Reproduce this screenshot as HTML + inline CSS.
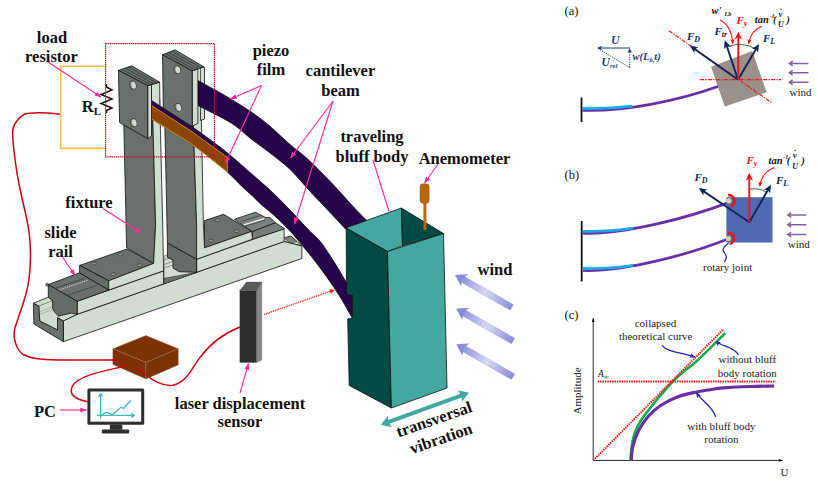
<!DOCTYPE html>
<html>
<head>
<meta charset="utf-8">
<title>Figure</title>
<style>
html,body{margin:0;padding:0;background:#fff;}
body{width:818px;height:482px;overflow:hidden;}
svg{display:block;}
.lb{font-family:"Liberation Serif","Times New Roman",serif;font-weight:bold;font-size:16.5px;fill:#111;}
.rg{font-family:"Liberation Serif","Times New Roman",serif;font-size:11px;fill:#222;}
.pl{font-family:"Liberation Serif","Times New Roman",serif;font-size:12.5px;fill:#111;}
.bi{font-family:"Liberation Serif","Times New Roman",serif;font-weight:bold;font-style:italic;font-size:11px;}
.pk{stroke:#FF2D95;stroke-width:1.15;fill:none;}
.ol{stroke:#111;stroke-width:0.8;stroke-linejoin:round;}
</style>
</head>
<body>
<svg width="818" height="482" viewBox="0 0 818 482">
<defs>
<marker id="mpk" viewBox="0 0 10 10" refX="9" refY="5" markerWidth="6" markerHeight="6" orient="auto-start-reverse"><path d="M0,1.5 L10,5 L0,8.5 z" fill="#FF2D95"/></marker>
<marker id="mnv" viewBox="0 0 10 10" refX="7" refY="5" markerWidth="4.2" markerHeight="4.2" orient="auto"><path d="M0,0.5 L10,5 L0,9.5 L2.5,5 z" fill="#10245C"/></marker>
<marker id="mrd" viewBox="0 0 10 10" refX="7" refY="5" markerWidth="4.2" markerHeight="4.2" orient="auto"><path d="M0,0.5 L10,5 L0,9.5 L2.5,5 z" fill="#FF1010"/></marker>
<marker id="mrs" viewBox="0 0 10 10" refX="8" refY="5" markerWidth="5" markerHeight="5" orient="auto"><path d="M0,1 L10,5 L0,9 L2.5,5 z" fill="#FF1010"/></marker>
<marker id="mbl" viewBox="0 0 10 10" refX="8" refY="5" markerWidth="5" markerHeight="5" orient="auto"><path d="M0,1 L10,5 L0,9 L2.5,5 z" fill="#1C22B8"/></marker>
<marker id="mpu" viewBox="0 0 10 10" refX="2" refY="5" markerWidth="5" markerHeight="5" orient="auto"><path d="M0,0.5 L6,5 L0,9.5" fill="none" stroke="#8064A2" stroke-width="1.6"/></marker>
<marker id="mbk" viewBox="0 0 10 10" refX="8" refY="5" markerWidth="7" markerHeight="5" orient="auto"><path d="M0,2 L10,5 L0,8 z" fill="#111"/></marker>
<linearGradient id="gw" x1="0" y1="0" x2="1" y2="0"><stop offset="0" stop-color="#8A8AD6"/><stop offset="0.5" stop-color="#D9D9F4"/><stop offset="1" stop-color="#8A8AD6"/></linearGradient>
</defs>
<rect width="818" height="482" fill="#fff"/>

<!-- ================= LEFT : experimental setup ================= -->
<g id="setup">
<!-- wires -->
<path d="M60.5,114.3 C58.2,114.1 51.3,113.2 47.0,113.0 C42.7,112.8 38.6,112.7 34.8,112.9 C31.0,113.2 26.9,113.3 24.0,114.5 C21.1,115.7 19.2,118.0 17.4,120.3 C15.6,122.5 14.0,125.2 13.2,128.0 C12.4,130.8 12.6,132.5 12.8,137.0 C13.0,141.5 13.7,148.6 14.5,155.0 C15.3,161.4 16.2,168.6 17.4,175.4 C18.6,182.2 20.1,189.2 21.5,196.0 C22.9,202.8 24.8,209.7 26.1,216.0 C27.4,222.3 28.6,228.2 29.3,234.0 C30.0,239.8 30.3,245.3 30.4,251.0 C30.5,256.7 30.4,262.2 30.0,268.0 C29.6,273.8 29.1,279.7 27.9,285.7 C26.7,291.7 24.8,298.2 23.0,304.0 C21.2,309.8 18.8,316.0 17.4,320.5 C15.9,325.0 14.8,327.9 14.3,331.0 C13.8,334.1 14.0,336.2 14.5,339.0 C15.0,341.8 16.1,345.4 17.5,348.0 C18.9,350.6 20.1,352.8 23.2,354.5 C26.3,356.2 30.2,357.6 36.0,358.5 C41.8,359.4 45.2,359.8 58.0,360.0 C70.8,360.2 103.8,360.0 113.0,360.0" fill="none" stroke="#D00010" stroke-width="1.5"/>
<path d="M121,367 C100,372 78,376 72.5,386 C68,395 76,399.5 88,401.7" fill="none" stroke="#D00010" stroke-width="1.5"/>
<path d="M145,374 C152,380 163,386.5 173,385.2 C186,383 192,368 200,357.4 C210,344 222,334 240,327" fill="none" stroke="#D00010" stroke-width="1.5"/>
<!-- orange circuit -->
<path d="M105,66.3 H60.7 V148.4 H105" fill="none" stroke="#FFC04A" stroke-width="1.6"/>
<!-- resistor -->
<path d="M106.5,84 L106.5,87 L112,90 L101,94.5 L112,99 L101,103.5 L112,108 L106.5,110.5 L106.5,113" fill="none" stroke="#111" stroke-width="1.5" stroke-linejoin="miter"/>

<!-- rail -->
<g class="ol">
<!-- rail body -->
<polygon points="33.3,303.3 47.7,297.4 291,236 301.9,246 284.1,241.5 77.2,314.3 63.4,321" fill="#D1DCD2"/>
<polygon points="63.4,321 77.2,314.3 284.1,241.5 301.9,246 301.9,258.5 63.4,341.7" fill="#D1DCD2"/>
<polygon points="284.6,238.8 291,236.3 297,241.6 290.3,243" fill="#7A827D" stroke-width="0.4"/>
<!-- channel interior -->
<polygon points="38.8,306 52.6,300.7 58.5,316.1 57.5,318 57.5,329.9 39.8,321" fill="#D1DCD2" stroke-width="0.4"/>
<path d="M39.5,312 L53,306.5 M39.5,314.5 L53.5,309" fill="none" stroke="#8B938E" stroke-width="0.6"/>
<!-- end face (U) -->
<polygon points="33.3,303.3 38.8,306 39.8,321 57.5,329.9 57.5,318 63.4,321 63.4,341.7 33.9,324" fill="#6A716D"/>
<!-- carriage long light face -->
<polygon points="77.2,301.3 284.1,228.4 284.1,241.5 77.2,314.3" fill="#D1DCD2"/>
<!-- carriage top (left) -->
<polygon points="48.3,284.6 79.6,272.8 108.7,290 77.2,301.3" fill="#6A716D"/>
<path d="M57.5,290.5 L88,280.2" fill="none" stroke="#E8EEE8" stroke-width="0.8" stroke-dasharray="1.2 0.8"/>
<path d="M67.4,295.4 L97,285.3 M55,288.3 L84.5,278.3" fill="none" stroke="#222" stroke-width="0.5"/>
<!-- carriage end face -->
<polygon points="48.3,284.6 77.2,301.3 77.2,314.3 71.3,313.1 58.5,316.1 54.6,312.1 52.6,308.2 52.6,300.7 48.3,297.4" fill="#646C68"/>
<ellipse cx="47.2" cy="284.6" rx="1.5" ry="1.7" fill="#6A716D" stroke-width="0.4"/>
<!-- left foot -->
<polygon points="79.6,265.4 127,249 153.6,263.4 108.7,280.8" fill="#6A716D"/>
<polygon points="79.6,265.4 108.7,280.8 108.7,290 79.6,272.8" fill="#646C68"/>
<!-- middle (between posts) carriage bits -->
<polygon points="164,256 168,254.5 174,262 196.6,272.3 164,283.7" fill="#D1DCD2" stroke-width="0.4"/>
<polygon points="164,278.3 196.6,272.3 164,283.7" fill="#6A716D" stroke-width="0.4"/>
<path d="M164,260 L173,257 M164,264.5 L173,261.5 M164,268 L173,265" fill="none" stroke="#222" stroke-width="0.4"/>
<!-- left post -->
<polygon points="123.3,100 152.3,100 155.6,225 153.6,263.4 126.6,247.7" fill="#6A716D"/>
<polygon points="152.3,100 159.7,98 162.7,225 163.6,270.8 108.7,290 108.7,280.8 153.6,263.4 155.6,225" fill="#D1DCD2"/>
<path d="M163.6,270.8 L163.6,283.8" fill="none"/>
<!-- right foot -->
<polygon points="204.5,220.6 223.6,214.3 251.7,231.4 204.5,247.8" fill="#6A716D"/>
<!-- right raised carriage block -->
<polygon points="234.4,219.3 255.5,212.2 265.4,217.4 270,217.6 275.4,222.8 252.4,231.7" fill="#7A827D"/>
<polygon points="252.4,231.7 275.4,222.8 284,228.2 284.2,229 252.4,239.2" fill="#757D78"/>
<path d="M243.7,224.9 L264.2,218.7" fill="none" stroke="#F2F6F2" stroke-width="1.3"/>
<path d="M245,226.3 L265.5,220 M240.5,221.8 L260,215.5" fill="none" stroke="#222" stroke-width="0.5"/>
<!-- right post -->
<polygon points="164.3,100 192.6,100 196.6,225 196.6,259.3 167.4,243.1 167,225" fill="#6A716D"/>
<polygon points="167.4,243.1 196.6,259.3 196.6,272.3 179.2,271.7 173,268 173,259.9 167.4,257.4" fill="#646C68"/>
<polygon points="192.6,100 201,100 203.4,225 204.5,247.8 251.7,231.4 252.4,239.2 196.6,259.3 196.6,225" fill="#D1DCD2"/>
<path d="M196.6,259.3 L196.6,272.3" fill="none"/>
</g>
<!-- holes on feet -->
<g fill="#8B938E" stroke="#111" stroke-width="0.4">
<ellipse cx="94" cy="263.6" rx="2.6" ry="1.4"/><ellipse cx="120.5" cy="254.5" rx="2.6" ry="1.4"/><ellipse cx="113.3" cy="274.3" rx="2.6" ry="1.4"/><ellipse cx="139.8" cy="265.3" rx="2.6" ry="1.4"/>
<ellipse cx="217.6" cy="220.3" rx="2.6" ry="1.4"/><ellipse cx="236.6" cy="231.2" rx="2.6" ry="1.4"/><ellipse cx="211" cy="240.6" rx="2.6" ry="1.4"/>
</g>

<!-- right clamp: back plate side -->
<polygon class="ol" points="200.3,66.6 204.5,67.3 204.5,119 200.5,120.5" fill="#D1DCD2"/>
<!-- upper (back) beam -->
<path class="ol" d="M198.0,80.5 C203.6,83.7 220.7,92.8 231.5,99.4 C242.3,106.0 252.9,112.7 262.6,120.2 C272.4,127.7 282.6,138.1 290.0,144.5 C297.4,150.9 300.3,152.2 307.3,158.7 C314.3,165.2 324.6,175.6 332.2,183.6 C339.8,191.6 347.1,200.1 353.0,206.4 C358.9,212.7 365.4,219.0 367.9,221.5 L345.7,229.2 C343.4,226.8 337.9,220.8 332.2,214.7 C326.5,208.6 318.4,200.3 311.5,192.9 C304.6,185.5 297.1,176.3 290.7,170.0 C284.3,163.7 279.4,160.4 273.0,155.3 C266.6,150.2 259.1,145.0 252.2,139.7 C245.3,134.4 240.5,129.0 231.5,123.3 C222.5,117.6 203.6,108.5 198.0,105.5 Z" fill="#27034B"/>
<!-- right clamp -->
<g class="ol">
<polygon points="192.2,70.8 197.9,69.2 197.9,123.3 192.2,126.3" fill="#D1DCD2"/>
<polygon points="162.5,54.8 175,49.8 204,66.9 192.2,70.8" fill="#6A716D"/>
<path d="M165.5,53.6 L195.2,69.8 M168.5,52.4 L198.2,68.8 M171.5,51.2 L201.2,67.8" fill="none" stroke="#111" stroke-width="0.5"/>
<polygon points="162.5,54.8 192.2,70.8 192.2,126.3 163.3,110" fill="#6A716D"/>
</g>
<!-- left clamp : post side visible behind beam -->
<polygon class="ol" points="151.5,84.6 159.7,82.2 159.9,112 151.5,108" fill="#D1DCD2"/>
<!-- lower (front) beam -->
<path class="ol" d="M150.0,99.5 C156.7,103.8 180.0,118.8 190.0,125.5 C200.0,132.2 203.3,134.6 210.0,139.5 C216.7,144.4 223.3,149.5 230.0,155.0 C236.7,160.5 243.3,166.7 250.0,172.5 C256.7,178.3 263.5,183.9 270.0,190.0 C276.5,196.1 282.6,202.3 289.0,209.0 C295.4,215.7 303.4,224.4 308.7,230.0 C314.0,235.6 316.9,237.2 321.0,242.4 C325.1,247.6 329.3,254.4 333.5,261.0 C337.7,267.6 342.9,276.5 346.0,281.8 C349.1,287.1 351.2,291.1 352.2,293.0 L352.3,318.0 C352.1,317.7 353.2,319.6 351.1,316.0 C349.0,312.4 343.7,302.7 339.7,296.3 C335.7,289.9 331.4,283.6 327.3,277.7 C323.2,271.8 319.0,266.4 314.9,261.0 C310.8,255.6 306.5,250.5 302.4,245.5 C298.2,240.5 294.8,236.1 290.0,231.0 C285.2,225.9 278.2,219.1 273.5,214.8 C268.8,210.5 265.3,208.2 261.7,205.0 C258.1,201.8 255.3,198.6 252.0,195.5 C248.7,192.4 246.2,190.4 242.0,186.4 C237.8,182.4 232.3,176.4 227.0,171.7 C221.7,167.0 216.2,162.8 210.0,158.0 C203.8,153.2 200.0,149.5 190.0,142.8 C180.0,136.1 156.7,122.1 150.0,118.0 Z" fill="#27034B"/>
<!-- piezo -->
<polygon points="150,104.6 190,130.4 227.3,157.3 227.3,171.9 210,158 190,142.8 150,118" fill="#8A4500" stroke="#E8901A" stroke-width="0.9"/>
<!-- left clamp plate -->
<g class="ol">
<polygon points="147.7,85.6 151.5,84.5 151.5,136 147.7,138.6" fill="#D1DCD2"/>
<polygon points="118.4,70.4 131.7,65.8 159.7,82.2 147.7,85.6" fill="#6A716D"/>
<path d="M121.7,69.2 L150.7,84.7 M125,68 L153.7,83.8 M128.3,66.9 L156.7,83" fill="none" stroke="#111" stroke-width="0.5"/>
<polygon points="118.4,70.4 147.7,85.6 147.7,138.6 119.6,122.6" fill="#6A716D"/>
</g>
<ellipse cx="132.8" cy="85" rx="3.1" ry="4.2" transform="rotate(-14 132.8 85)" fill="#868E88" stroke="#111" stroke-width="0.5"/><ellipse cx="133.60000000000002" cy="85.2" rx="2.2" ry="3.5" transform="rotate(-14 133.60000000000002 85.2)" fill="#D3D9D3"/>
<ellipse cx="133.5" cy="122.6" rx="3.1" ry="4.2" transform="rotate(-14 133.5 122.6)" fill="#868E88" stroke="#111" stroke-width="0.5"/><ellipse cx="134.3" cy="122.8" rx="2.2" ry="3.5" transform="rotate(-14 134.3 122.8)" fill="#D3D9D3"/>
<ellipse cx="177.1" cy="69.7" rx="3.1" ry="4.2" transform="rotate(-14 177.1 69.7)" fill="#868E88" stroke="#111" stroke-width="0.5"/><ellipse cx="177.9" cy="69.9" rx="2.2" ry="3.5" transform="rotate(-14 177.9 69.9)" fill="#D3D9D3"/>
<ellipse cx="178" cy="107.3" rx="3.1" ry="4.2" transform="rotate(-14 178 107.3)" fill="#868E88" stroke="#111" stroke-width="0.5"/><ellipse cx="178.8" cy="107.5" rx="2.2" ry="3.5" transform="rotate(-14 178.8 107.5)" fill="#D3D9D3"/>
<!-- red dotted box -->
<rect x="105.6" y="43.7" width="108.8" height="113.2" fill="none" stroke="#C8182C" stroke-width="1.25" stroke-dasharray="1.5 0.6"/>

<!-- bluff body -->
<g class="ol" stroke-width="1.1">
<polygon points="345.5,228 401.4,208 402.5,245.5 387.5,251.5" fill="#45A8A0"/>
<polygon points="401.4,208 443.5,233.5 402.5,245.8" fill="#004A44"/>
<polygon points="346.2,228 387.5,251.5 391.4,408 349.2,385.5 347.7,319 352.5,318 352.5,295 346.5,295" fill="#004A44"/>
<polygon points="387.5,251.5 443.5,233.5 447,388 391.4,408" fill="#45A8A0"/>
</g>
<!-- anemometer -->
<rect x="423.4" y="200" width="3" height="30" fill="#B8690F"/>
<rect x="420" y="183.8" width="9.2" height="19.5" rx="3" fill="#B8690F" stroke="#8A4A00" stroke-width="0.4"/>

<!-- laser sensor -->
<g stroke="#444" stroke-width="0.3">
<polygon points="239.8,290.5 256.6,290.5 256.6,362.5 239.8,362.5" fill="#2E2E2E"/>
<polygon points="256.6,290.5 261.8,282 261.8,360 256.6,362.5" fill="#858585"/>
<polygon points="239.8,290.5 246.5,282 261.8,282 256.6,290.5" fill="#5A5A5A"/>
</g>
<line x1="264" y1="314.5" x2="331" y2="291" stroke="#FF1A1A" stroke-width="1.4" stroke-dasharray="1.1 0.8"/>
<path d="M334.8,289.9 L329.3,289.2 L330.8,293.7 z" fill="#FF1A1A"/>

<!-- brown box -->
<g stroke="#A8744E" stroke-width="0.4" stroke-linejoin="round">
<polygon points="112.8,348.7 145.9,335.4 178.3,348.7 145.9,362.4" fill="#7B3204"/>
<polygon points="112.8,348.7 145.9,362.4 145.9,379 112.8,364.4" fill="#7B3204"/>
<polygon points="145.9,362.4 178.3,348.7 178.3,364.9 145.9,379" fill="#7B3204"/>
</g>
<!-- wire ends over box -->
<g fill="none" stroke="#D00010" stroke-width="1.5" stroke-linecap="round">
<path d="M112,360 L116.8,359.9"/>
<path d="M127.2,365.4 L120,367.3"/>
<path d="M138.5,369.3 L146,374.8"/>
</g>
<circle cx="116.8" cy="359.9" r="1" fill="#D00010"/><circle cx="127.2" cy="365.4" r="1" fill="#D00010"/><circle cx="138.5" cy="369.3" r="1" fill="#D00010"/>

<!-- PC monitor -->
<rect x="87.4" y="388.5" width="56.8" height="36.2" rx="1.5" fill="#2E2E2E"/>
<rect x="90.4" y="391.5" width="50.8" height="30.2" fill="#fff"/>
<rect x="109.8" y="424.5" width="12.5" height="5.3" fill="#2E2E2E"/>
<rect x="101.8" y="429.6" width="27.4" height="3.8" rx="0.8" fill="#2E2E2E"/>
<g stroke="#45B8B8" stroke-width="1.3" fill="none" stroke-linejoin="round">
<path d="M100.6,418.4 V394.5"/><path d="M96.8,415.4 H133"/>
<path d="M98.6,396.8 L100.6,393.6 L102.6,396.8"/><path d="M131.2,413.4 L134.3,415.4 L131.2,417.4"/>
<path d="M101.1,415.4 L106.1,412.2 L112.3,414.7 L121,407.2 L123.5,408.5 L131,400.2"/>
</g>

<!-- wind arrows -->
<g>
<g transform="translate(455,274.9) rotate(29.8)"><rect x="5" y="-3.2" width="60.5" height="6.4" fill="url(#gw)" stroke="#8A8AD6" stroke-width="0.3"/><path d="M0,0 L11,-7 L8,0 L11,7 z" fill="#8A8AD6"/></g>
<g transform="translate(456.3,308.5) rotate(29.8)"><rect x="5" y="-3.2" width="60.5" height="6.4" fill="url(#gw)" stroke="#8A8AD6" stroke-width="0.3"/><path d="M0,0 L11,-7 L8,0 L11,7 z" fill="#8A8AD6"/></g>
<g transform="translate(456.3,344.2) rotate(29.8)"><rect x="5" y="-3.2" width="60.5" height="6.4" fill="url(#gw)" stroke="#8A8AD6" stroke-width="0.3"/><path d="M0,0 L11,-7 L8,0 L11,7 z" fill="#8A8AD6"/></g>
</g>
<!-- transversal arrow -->
<g transform="translate(380.8,424.8) rotate(-20)"><rect x="7" y="-2" width="80" height="4" fill="#45A8A0"/><path d="M0,0 L9.5,-6 L8,0 L9.5,6 z" fill="#45A8A0"/><path d="M93.8,0 L84.3,-6 L85.8,0 L84.3,6 z" fill="#45A8A0"/></g>

<!-- pink leaders -->
<g class="pk">
<line x1="46.5" y1="61" x2="101" y2="97" marker-end="url(#mpk)"/>
<line x1="261.5" y1="85.5" x2="230.5" y2="99" marker-end="url(#mpk)"/>
<line x1="261.5" y1="85.5" x2="225.5" y2="163" marker-end="url(#mpk)"/>
<line x1="333" y1="101" x2="290.5" y2="158" marker-end="url(#mpk)"/>
<line x1="333" y1="101" x2="294.5" y2="224" marker-end="url(#mpk)"/>
<line x1="373" y1="160" x2="389" y2="211.5"/>
<line x1="438" y1="164" x2="424.5" y2="183" marker-end="url(#mpk)"/>
<line x1="103" y1="208.5" x2="141" y2="233" marker-end="url(#mpk)"/>
<line x1="61.5" y1="255.5" x2="75" y2="275.5" marker-end="url(#mpk)"/>
<line x1="60" y1="410" x2="86.5" y2="410" marker-end="url(#mpk)"/>
<line x1="240" y1="393" x2="248.5" y2="363.5" marker-end="url(#mpk)"/>
</g>

<!-- labels -->
<g class="lb" text-anchor="middle">
<text x="52" y="42.5">load</text>
<text x="51.5" y="62">resistor</text>
<text x="271" y="55.8">piezo</text>
<text x="271" y="75.4">film</text>
<text x="340.4" y="75.8">cantilever</text>
<text x="340.6" y="95.6">beam</text>
<text x="372" y="142">traveling</text>
<text x="372" y="162">bluff body</text>
<text x="464.5" y="163.5">Anemometer</text>
<text x="89" y="208">fixture</text>
<text x="60.5" y="238">slide</text>
<text x="60.5" y="257">rail</text>
<text x="495" y="275">wind</text>
<text x="45" y="416.5">PC</text>
<text x="240" y="408.5">laser displacement</text>
<text x="240" y="427">sensor</text>
<text transform="translate(435.8,424.5) rotate(-19.3)" x="0" y="0">transversal</text>
<text transform="translate(442.7,443.6) rotate(-19.3)" x="0" y="0">vibration</text>
</g>
<text class="lb" x="81.8" y="112">R<tspan font-size="11" dy="3">L</tspan></text>
</g>

<!-- ================= RIGHT : panels ================= -->
<g id="panelA">
<text class="pl" x="564.5" y="15">(a)</text>
<!-- velocity triangle -->
<g stroke="#1F3A7A" fill="none" stroke-width="1">
<line x1="630" y1="48" x2="598.5" y2="48"/><path d="M597,48 L602,45.7 L600.8,48 L602,50.3 z" fill="#1F3A7A" stroke="none"/>
<line x1="629.7" y1="67.5" x2="629.7" y2="50" stroke-dasharray="1.2 1.2"/><path d="M629.7,48.3 L627.6,52.5 L631.8,52.5 z" fill="#1F3A7A" stroke="none"/>
<line x1="629.7" y1="67.5" x2="598" y2="48.5" stroke-dasharray="1.2 1.2"/>
</g>
<g class="bi" fill="#1F3A7A">
<text x="611" y="43.5" font-size="12">U</text>
<text x="601.3" y="66" font-size="12">U<tspan font-size="6.5" dy="1.8">rel</tspan></text>
<text x="632.5" y="60" font-size="10.5">w(L<tspan font-size="6.5" dy="1.5">b,</tspan><tspan dy="-1.5">t)</tspan></text>
</g>
<!-- wall + beam -->
<line x1="581.5" y1="97.5" x2="581.5" y2="122" stroke="#111" stroke-width="1.8"/>
<path d="M582.3,110.3 C625,112 680,100 718.6,86.2" fill="none" stroke="#6A2FA3" stroke-width="2.8"/>
<path d="M582.3,108.5 C600,109 617,108 632.5,106.2" fill="none" stroke="#1EA7E8" stroke-width="2.8"/>
<!-- body -->
<polygon points="711.1,66.8 752.2,51.1 766.7,92.2 724.8,106.6" fill="#9A908C"/>
<g stroke="#FF1010" stroke-width="1.2" stroke-dasharray="4 1.3 1.3 1.3" fill="none">
<line x1="700" y1="79.7" x2="781" y2="79.7"/>
<line x1="669" y1="30.7" x2="772" y2="103"/>
</g>
<g stroke="#10245C" stroke-width="1.9" fill="none">
<line x1="738" y1="79.7" x2="691.8" y2="47" marker-end="url(#mnv)"/>
<line x1="738" y1="79.7" x2="725.6" y2="42.5" marker-end="url(#mnv)"/>
<line x1="738" y1="79.7" x2="757.8" y2="46" marker-end="url(#mnv)"/>
</g>
<line x1="738.3" y1="79.7" x2="738.3" y2="34" stroke="#FF1010" stroke-width="1.9" marker-end="url(#mrd)"/>
<path d="M728.3,46.6 Q741,41.5 755,48.3" fill="none" stroke="#111" stroke-width="0.7"/>
<path d="M720,20 C728,24 732,33 732.8,43.5" fill="none" stroke="#FF1010" stroke-width="1.1" marker-end="url(#mrs)"/>
<path d="M762,26.3 C754,29 750,36 748.7,43.5" fill="none" stroke="#FF1010" stroke-width="1.1" marker-end="url(#mrs)"/>
<g class="bi">
<text x="736.5" y="23.7" fill="#FF1010">F<tspan font-size="8" dy="2">y</tspan></text>
<text x="687" y="39.5" fill="#10245C">F<tspan font-size="8" dy="2">D</tspan></text>
<text x="714.5" y="35" fill="#10245C">F<tspan font-size="8" dy="2">tr</tspan></text>
<text x="763" y="42.4" fill="#10245C">F<tspan font-size="8" dy="2">L</tspan></text>
<text x="711.5" y="14" fill="#111" font-size="10.5">w'</text><text x="724.5" y="16.3" fill="#111" font-size="6">Lb</text>
<text x="754.8" y="23.2" fill="#111" font-size="10.5">tan</text><text x="769.5" y="18" fill="#111" font-size="6">-1</text><text x="773" y="23.2" fill="#111" font-size="10">(</text><text x="778.8" y="16.8" fill="#111" font-size="8">v</text><text x="780.3" y="9.8" fill="#111" font-size="8">.</text><text x="778" y="27.3" fill="#111" font-size="8">U</text><text x="786.6" y="23.2" fill="#111" font-size="10">)</text>
</g>
<g stroke="#8064A2" stroke-width="1.5" fill="none">
<path d="M808.5,63.5 H789.5 M792.7,61.1 L789.3,63.5 L792.7,65.9"/>
<path d="M808.5,72.8 H789.5 M792.7,70.4 L789.3,72.8 L792.7,75.2"/>
<path d="M808.5,82.2 H789.5 M792.7,79.8 L789.3,82.2 L792.7,84.6"/>
</g>
<text class="rg" x="789.5" y="96">wind</text>
</g>

<g id="panelB">
<text class="pl" x="564.5" y="179">(b)</text>
<line x1="581.7" y1="221" x2="581.7" y2="281.5" stroke="#111" stroke-width="1.8"/>
<path d="M582.5,233.2 C625,235 690,217 728.5,202.6" fill="none" stroke="#6A2FA3" stroke-width="2.8"/>
<path d="M582.5,231.3 C600,231.8 617,230.5 633,228.2" fill="none" stroke="#1EA7E8" stroke-width="2.8"/>
<path d="M582.5,270.4 C625,272 690,254 728,239" fill="none" stroke="#6A2FA3" stroke-width="2.8"/>
<path d="M582.5,268.5 C600,269 617,267.7 633,265.4" fill="none" stroke="#1EA7E8" stroke-width="2.8"/>
<rect x="726.4" y="197.2" width="46.1" height="45.3" fill="#4F69B3"/>
<path d="M728.2,195.2 A5.6,5.6 0 0 1 730.2,206.2" fill="none" stroke="#FF1010" stroke-width="2.6"/>
<path d="M727.5,233 A5.6,5.6 0 0 1 729.6,244" fill="none" stroke="#FF1010" stroke-width="2.6"/>
<circle cx="729" cy="200.8" r="2.6" fill="#CFD89A"/>
<circle cx="728.4" cy="238.5" r="2.6" fill="#CFD89A"/>
<g stroke="#10245C" stroke-width="1.9" fill="none">
<line x1="749.3" y1="222.2" x2="700.8" y2="189.4" marker-end="url(#mnv)"/>
<line x1="749.3" y1="222.2" x2="769.8" y2="186.8" marker-end="url(#mnv)"/>
</g>
<line x1="749.3" y1="222.2" x2="749.3" y2="175" stroke="#FF1010" stroke-width="1.9" marker-end="url(#mrd)"/>
<path d="M749.5,189.2 Q759,187.5 767,192.5" fill="none" stroke="#111" stroke-width="0.7"/>
<path d="M774.3,167.5 C765,171 761,178 759.8,186" fill="none" stroke="#FF1010" stroke-width="1.1" marker-end="url(#mrs)"/>
<g class="bi">
<text x="746.5" y="164" fill="#FF1010">F<tspan font-size="8" dy="2">y</tspan></text>
<text x="694.5" y="180.5" fill="#10245C">F<tspan font-size="8" dy="2">D</tspan></text>
<text x="776" y="183.7" fill="#10245C">F<tspan font-size="8" dy="2">L</tspan></text>
<text x="768.6" y="164.4" fill="#111" font-size="10.5">tan</text><text x="783.3" y="159.2" fill="#111" font-size="6">-1</text><text x="786.8" y="164.4" fill="#111" font-size="10">(</text><text x="793" y="158" fill="#111" font-size="8">v</text><text x="794.5" y="151" fill="#111" font-size="8">.</text><text x="792.2" y="168.5" fill="#111" font-size="8">U</text><text x="801.5" y="164.4" fill="#111" font-size="10">)</text>
</g>
<g stroke="#8064A2" stroke-width="1.5" fill="none">
<path d="M806.3,215 H788 M791.2,212.6 L787.8,215 L791.2,217.4"/>
<path d="M806.3,224.7 H788 M791.2,222.3 L787.8,224.7 L791.2,227.1"/>
<path d="M806.3,234.4 H788 M791.2,232.0 L787.8,234.4 L791.2,236.8"/>
</g>
<text class="rg" x="787.8" y="247.6">wind</text>
<path d="M728.5,243 C726,245.5 722.5,247.5 723.2,250.5 C724,253.5 727,254.5 726.3,257.5 C725.8,259.5 724.8,260.8 724.5,262.2" fill="none" stroke="#1C22B8" stroke-width="1.2"/>
<text class="rg" x="703" y="270.5">rotary joint</text>
</g>

<g id="panelC">
<text class="pl" x="564.5" y="319">(c)</text>
<line x1="593.2" y1="460.4" x2="593.2" y2="318.5" stroke="#111" stroke-width="0.9" marker-end="url(#mbk)"/>
<line x1="593.2" y1="460.4" x2="782.4" y2="460.4" stroke="#111" stroke-width="0.9" marker-end="url(#mbk)"/>
<text class="rg" transform="translate(580.5,391) rotate(-90)" text-anchor="middle" font-size="10.8">Amplitude</text>
<text class="rg" x="780.5" y="475.5" font-size="12">U</text>
<text x="598" y="376.5" font-family="Liberation Serif, serif" font-style="italic" font-size="9.5" fill="#111">A<tspan font-size="7" dy="2.2">∞</tspan></text>
<path d="M630.5,460.4 C630.7,458.3 630.9,452.2 631.5,448.0 C632.1,443.8 632.8,439.2 634.0,435.3 C635.2,431.4 636.8,427.7 638.5,424.5 C640.2,421.3 641.3,419.8 644.2,415.9 C647.1,412.0 651.1,406.6 655.7,401.1 C660.3,395.6 666.7,387.9 671.6,382.8 C676.5,377.7 680.9,374.1 685.3,370.3 C689.7,366.5 691.2,366.2 697.9,360.0 C704.5,353.8 720.7,337.7 725.2,333.2" fill="none" stroke="#0DB14B" stroke-width="2.6"/>
<path d="M631.3,460.4 C631.5,458.1 631.6,451.7 632.8,446.8 C634.0,441.9 636.0,435.8 638.5,430.8 C641.0,425.9 644.1,421.3 647.7,417.1 C651.3,412.9 655.1,409.1 660.2,405.7 C665.3,402.3 672.4,398.8 678.5,396.5 C684.6,394.2 691.5,393.1 696.8,392.0 C702.0,390.9 705.6,390.4 710.0,389.7 C714.4,389.0 716.6,388.4 723.3,387.9 C730.0,387.4 741.5,386.8 750.0,386.5 C758.5,386.2 770.2,386.1 774.2,386.0" fill="none" stroke="#6A2FA3" stroke-width="3.1"/>
<line x1="593.2" y1="460.4" x2="723.5" y2="329.2" stroke="#FF1010" stroke-width="1.9" stroke-dasharray="1.5 0.9"/>
<line x1="597.7" y1="381.5" x2="775.6" y2="381.5" stroke="#FF1010" stroke-width="1.9" stroke-dasharray="1.5 0.9"/>
<g fill="none" stroke="#1C22B8" stroke-width="1.2">
<path d="M662,345.3 C668,353 682,352 694.5,357" marker-end="url(#mbl)"/>
<path d="M738.4,354.7 C733,346 722,347 716.3,341.3" marker-end="url(#mbl)"/>
<path d="M715.7,417 C713,407 703,402 696.6,393.2" marker-end="url(#mbl)"/>
</g>
<g class="rg" text-anchor="middle">
<text x="655.5" y="327.2">collapsed</text>
<text x="655.7" y="339.6">theoretical curve</text>
<text x="747.3" y="363.4">without bluff</text>
<text x="747.3" y="376.6">body rotation</text>
<text x="721.4" y="430.2">with bluff body</text>
<text x="721.4" y="443.4">rotation</text>
</g>
</g>
</svg>
</body>
</html>
